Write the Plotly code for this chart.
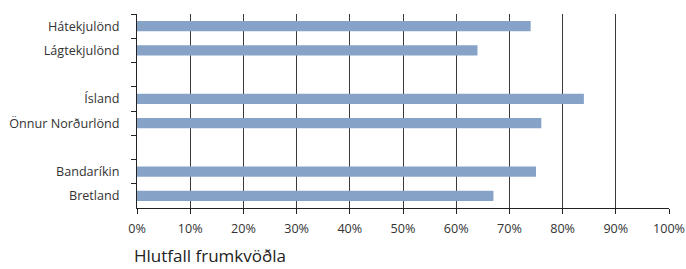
import plotly.graph_objects as go

categories = ["Hátekjulönd", "Lágtekjulönd", " ", "Ísland", "Önnur Norðurlönd", "  ", "Bandaríkin", "Bretland"]
values = [74, 64, None, 84, 76, None, 75, 67]
x_tickvals = [0, 10, 20, 30, 40, 50, 60, 70, 80, 90, 100]
x_ticktext = [f"{v}%" for v in x_tickvals]
axis_title = "Hlutfall frumkvöðla"

FONT = "Open Sans, DejaVu Sans, sans-serif"

fig = go.Figure(go.Bar(
    x=values, y=categories, orientation="h",
    marker=dict(color="#86a3c7", line=dict(width=0)),
    width=0.42,
))

fig.update_layout(
    width=686, height=269,
    margin=dict(l=137, r=17, t=14, b=61, autoexpand=False),
    paper_bgcolor="white", plot_bgcolor="white",
    showlegend=False,
    font=dict(family=FONT, size=12.6, color="#333333"),
    xaxis=dict(
        range=[0, 100], tickvals=x_tickvals, ticktext=x_ticktext,
        showgrid=True, gridcolor="#3a3a3a", gridwidth=1,
        zeroline=False, showline=True, linecolor="#222222", linewidth=1,
        ticks="outside", ticklen=5, tickcolor="#222222",
        tickfont=dict(size=12.6, color="#333333"),
        automargin=False, ticklabelstandoff=4,
    ),
    yaxis=dict(
        type="category", categoryorder="array", categoryarray=categories,
        autorange="reversed",
        showline=True, linecolor="#222222", linewidth=1,
        ticks="outside", ticklen=5, tickcolor="#222222", tickson="boundaries",
        showgrid=False, zeroline=False,
        tickfont=dict(size=12.6, color="#333333"),
        ticklabelstandoff=14, automargin=False,
    ),
    annotations=[dict(
        text=axis_title, xref="paper", yref="paper", x=-0.01, y=-0.316,
        xanchor="left", yanchor="bottom", showarrow=False,
        font=dict(family=FONT, size=17, color="#222222"),
    )],
)

fig.write_html(
    "out.html",
    config={"displayModeBar": False},
    post_script="document.body.style.margin='0';document.body.style.padding='0';",
)
